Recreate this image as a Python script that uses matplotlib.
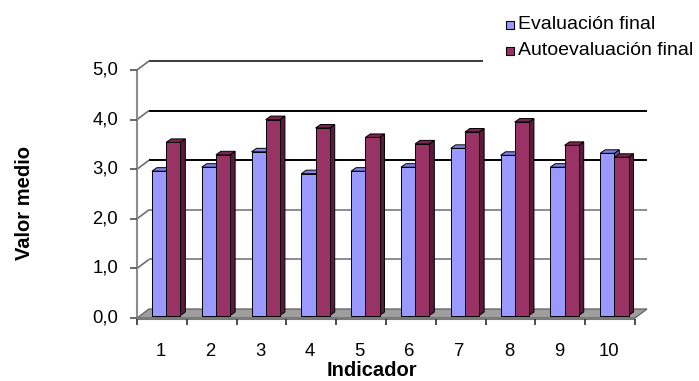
import matplotlib
matplotlib.use('Agg')
import matplotlib.pyplot as plt
from matplotlib.patches import Polygon, Rectangle
from matplotlib.transforms import IdentityTransform

# Mean values per indicator
categories = ['1', '2', '3', '4', '5', '6', '7', '8', '9', '10']
evaluacion = [2.91, 2.99, 3.30, 2.86, 2.91, 2.99, 3.37, 3.23, 2.99, 3.27]
autoevaluacion = [3.49, 3.24, 3.95, 3.78, 3.59, 3.46, 3.70, 3.90, 3.43, 3.19]
series_names = ['Evaluación final', 'Autoevaluación final']
y_ticks = [0, 1, 2, 3, 4, 5]
y_labels = ['0,0', '1,0', '2,0', '3,0', '4,0', '5,0']

plt.rcParams['font.family'] = ['Liberation Sans', 'DejaVu Sans']

W, H = 699, 381
fig = plt.figure(figsize=(W / 100, H / 100), dpi=100)
ax = fig.add_axes([137 / W, (H - 318) / H, 498 / W, 248 / H])
ax.set_xlim(0.5, len(categories) + 0.5)
ax.set_ylim(0, 5)
ax.set_autoscale_on(False)
ax.axis('off')

WALL = (12, 9)        # how far the back wall sits behind the front plane (px)
DEPTH = (5, 3.5)      # bar depth (px)
SHIFT = (1, 2.5)      # bars stand slightly behind the front edge
BAR_W = 0.285

colors = {
    'blue': ('#9999ff', '#8282e6', '#5f5fc4'),   # front, top, side
    'red': ('#993366', '#7a2452', '#5a1a3d'),
}
grid_colors = {1: '#8c8c8c', 2: '#8c8c8c', 3: 'black', 4: 'black', 5: '#3a3a3a'}
ident = IdentityTransform()


def px(x, y, off=(0, 0), off2=(0, 0)):
    X, Y = ax.transData.transform((x, y))
    return (X + off[0] + off2[0], Y + off[1] + off2[1])


def face(pts, fc, z, ec='black', lw=0.7):
    ax.add_patch(Polygon(pts, closed=True, facecolor=fc, edgecolor=ec, lw=lw,
                         transform=ident, clip_on=False, zorder=z))


def line(p, q, color, lw=1.4, z=2):
    ax.plot([p[0], q[0]], [p[1], q[1]], color=color, lw=lw, transform=ident,
            clip_on=False, zorder=z, solid_capstyle='butt')


x_lo, x_hi = 0.5, len(categories) + 0.5

# floor
face([px(x_lo, 0), px(x_hi, 0), px(x_hi, 0, WALL), px(x_lo, 0, WALL)],
     '#9e9e9e', 1, ec='#6a6a6a', lw=1.0)

# back wall gridlines and the connectors from the value axis
for t in y_ticks[1:]:
    c = grid_colors[t]
    line(px(x_lo, t, WALL), px(x_hi, t, WALL), c, z=1.5)
    line(px(x_lo, t), px(x_lo, t, WALL), '#6e6e6e', lw=1.2, z=1.5)

# value axis
line(px(x_lo, 0), px(x_lo, 5), '#8c8c8c', lw=1.5, z=3)
for t, lab in zip(y_ticks, y_labels):
    a = px(x_lo, t)
    line((a[0] - 7, a[1]), a, '#505050', lw=1.2, z=3)
    ax.text(a[0] - 19, a[1], lab, transform=ident, ha='right', va='center',
            fontsize=13.3, color='black')

# category axis
line(px(x_lo, 0, (0, -1)), px(x_hi, 0, (0, -1)), '#7a7a7a', lw=1.5, z=3)
for k in range(len(categories) + 1):
    a = px(x_lo + k, 0, (0, -1))
    line(a, (a[0], a[1] - 6), '#303030', lw=1.2, z=3)
for k, lab in enumerate(categories):
    a = px(k + 1, 0)
    ax.text(a[0] - 1.5, a[1] - 33, lab, transform=ident, ha='center',
            va='center', fontsize=13.3, color='black')

# bars: blue first so the red front face hides the blue side
for k in range(len(categories)):
    i = k + 1
    for j, (vals, key) in enumerate([(evaluacion, 'blue'), (autoevaluacion, 'red')]):
        v = vals[k]
        fc, tc, sc = colors[key]
        x0 = i - 0.22 + j * BAR_W
        x1 = x0 + BAR_W
        z = 4 + k * 0.1 + j * 0.05
        face([px(x1, 0, SHIFT), px(x1, 0, SHIFT, DEPTH), px(x1, v, SHIFT, DEPTH),
              px(x1, v, SHIFT)], sc, z)
        face([px(x0, v, SHIFT), px(x1, v, SHIFT), px(x1, v, SHIFT, DEPTH),
              px(x0, v, SHIFT, DEPTH)], tc, z + 0.01)
        face([px(x0, 0, SHIFT), px(x1, 0, SHIFT), px(x1, v, SHIFT),
              px(x0, v, SHIFT)], fc, z + 0.02)

# axis titles
fig.text(25 / W, 1 - 203 / H, 'Valor medio', rotation=90, ha='center',
         va='center', fontsize=14.5, fontweight='bold')
fig.text(372 / W, 1 - 371 / H, 'Indicador', ha='center', va='center',
         fontsize=14.5, fontweight='bold')

# legend
fig.add_artist(Rectangle((483 / W, 1 - 66 / H), 216 / W, 66 / H,
                         transform=fig.transFigure, facecolor='white',
                         edgecolor='none', zorder=5))
for r, (name, key) in enumerate(zip(series_names, ['blue', 'red'])):
    yc = 25 + r * 26
    fig.add_artist(Rectangle((506 / W, 1 - (yc + 4) / H), 8 / W, 8 / H,
                             transform=fig.transFigure, facecolor=colors[key][0],
                             edgecolor='black', lw=0.8, zorder=6))
    fig.text(518 / W, 1 - (yc - 0.5) / H, name, ha='left', va='center',
             fontsize=14, zorder=6)

fig.savefig('out.png', dpi=100)
